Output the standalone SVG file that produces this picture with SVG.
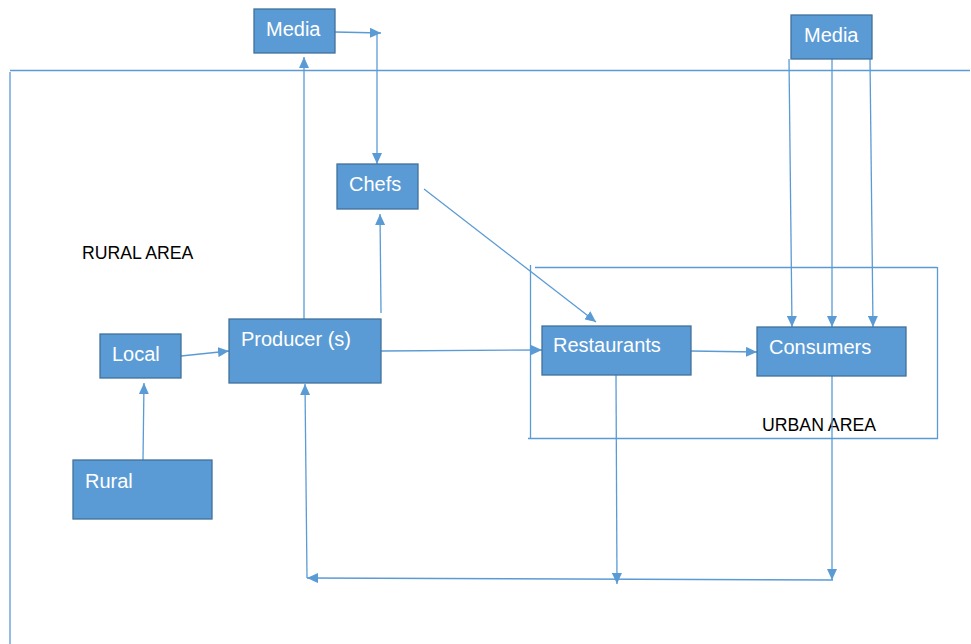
<svg xmlns="http://www.w3.org/2000/svg" width="971" height="644" viewBox="0 0 971 644">
<style>
.box{fill:#5B9BD5;stroke:#41719C;stroke-width:1.3}
.lbl{fill:#FFFFFF;font-family:"Liberation Sans",Arial,sans-serif;font-size:20px}
.area{fill:#000000;font-family:"Liberation Sans",Arial,sans-serif;font-size:17.7px}
.ln{stroke:#5B9BD5;stroke-width:1.3;fill:none}
.arr{stroke:#5B9BD5;stroke-width:1.3;fill:none;marker-end:url(#ah)}
</style>
<defs>
<marker id="ah" markerUnits="userSpaceOnUse" markerWidth="12" markerHeight="10" refX="11" refY="5" orient="auto">
<path d="M0,0 L11,5 L0,10 z" fill="#5B9BD5"/>
</marker>
</defs>
<rect width="971" height="644" fill="#FFFFFF"/>
<g id="borders">
<line class="ln" x1="10" y1="70.5" x2="970" y2="70.5"/>
<line class="ln" x1="10" y1="72" x2="10" y2="644"/>
</g>
<g id="urban-area">
<line class="ln" x1="535" y1="267.5" x2="937" y2="267.5"/>
<line class="ln" x1="530.5" y1="265" x2="530.5" y2="438"/>
<line class="ln" x1="937.5" y1="267" x2="937.5" y2="439"/>
<line class="ln" x1="528" y1="438.5" x2="938" y2="438.5"/>
<text class="area" x="762" y="431">URBAN AREA</text>
</g>
<g id="rural-area">
<text class="area" x="82" y="259">RURAL AREA</text>
</g>
<g id="connectors">
<line class="arr" x1="335" y1="32" x2="381" y2="33"/>
<line class="arr" x1="377" y1="33" x2="377" y2="164"/>
<line class="arr" x1="304" y1="319" x2="304" y2="57"/>
<line class="arr" x1="381" y1="313" x2="380" y2="214"/>
<line class="arr" x1="424" y1="189" x2="596" y2="322"/>
<line class="arr" x1="181" y1="356" x2="229" y2="351"/>
<line class="arr" x1="143" y1="460" x2="144" y2="383"/>
<line class="arr" x1="381" y1="351" x2="542" y2="350"/>
<line class="arr" x1="691" y1="351" x2="757" y2="352"/>
<line class="arr" x1="789" y1="59" x2="792" y2="327"/>
<line class="arr" x1="832" y1="59" x2="832" y2="327"/>
<line class="arr" x1="870" y1="59" x2="873" y2="327"/>
<line class="arr" x1="616" y1="375" x2="617" y2="584"/>
<line class="arr" x1="832" y1="376" x2="832" y2="580"/>
<line class="arr" x1="833" y1="580" x2="307" y2="578"/>
<line class="arr" x1="307" y1="578" x2="305" y2="384"/>
</g>
<g id="media-top">
<rect class="box" x="254" y="9" width="81" height="44"/>
<text class="lbl" x="266" y="36">Media</text>
</g>
<g id="media-right">
<rect class="box" x="791" y="15" width="81" height="44"/>
<text class="lbl" x="804" y="42">Media</text>
</g>
<g id="chefs">
<rect class="box" x="337" y="164" width="81" height="45"/>
<text class="lbl" x="349" y="191">Chefs</text>
</g>
<g id="local">
<rect class="box" x="100" y="334" width="81" height="44"/>
<text class="lbl" x="112" y="361">Local</text>
</g>
<g id="producers">
<rect class="box" x="229" y="319" width="152" height="64"/>
<text class="lbl" x="241" y="346">Producer (s)</text>
</g>
<g id="rural">
<rect class="box" x="73" y="460" width="139" height="59"/>
<text class="lbl" x="85" y="488">Rural</text>
</g>
<g id="restaurants">
<rect class="box" x="542" y="326" width="149" height="49"/>
<text class="lbl" x="553" y="352">Restaurants</text>
</g>
<g id="consumers">
<rect class="box" x="757" y="327" width="149" height="49"/>
<text class="lbl" x="769" y="354">Consumers</text>
</g>
</svg>
